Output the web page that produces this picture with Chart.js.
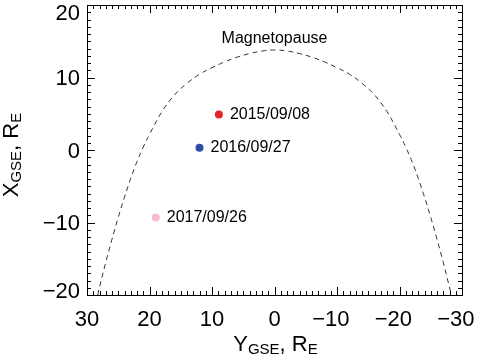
<!DOCTYPE html>
<html>
<head>
<meta charset="utf-8">
<script src="https://cdn.jsdelivr.net/npm/chart.js@4.4.1/dist/chart.umd.min.js"></script>
<style>
  html, body { margin: 0; padding: 0; background: #fff; }
  #wrap { width: 477px; height: 361px; position: relative; }
</style>
</head>
<body>
<div id="wrap"><canvas id="mp"></canvas></div>
<script>
// magnetopause boundary (Y_GSE, X_GSE in Earth radii)
const mpY = [28.3, 27, 26, 25, 24, 23, 22, 21, 20, 18, 16, 14, 12, 10, 8, 6, 4, 2, 0,
             -2, -4, -6, -8, -10, -12, -14, -16, -18, -20, -21, -22, -23, -24, -25, -26, -27, -28.3];
const mpX = [-20, -15.5, -12.3, -9.3, -6.5, -3.9, -1.6, 0.4, 2.15, 5.3, 7.6, 9.2, 10.45, 11.35, 12.15, 12.8, 13.3, 13.65, 13.8,
             13.65, 13.3, 12.8, 12.15, 11.35, 10.45, 9.2, 7.6, 5.3, 2.15, 0.4, -1.6, -3.9, -6.5, -9.3, -12.3, -15.5, -20];

// spacecraft positions for the three events
const eventDates = ['2015/09/08', '2016/09/27', '2017/09/26'];
const eventY = [8.9, 12.0, 19.0];
const eventX = [4.9, 0.3, -9.3];

const FONT = '"Liberation Sans", Arial, Helvetica, sans-serif';

// negative labels: minus hangs to the left of the centred digits
function xLabel(v) {
    return v < 0 ? '\u2212' + Math.abs(v) + '\u2007' : String(v);
}

// draws main text + subscript pieces centred on 0,0 (already translated/rotated)
function drawSubText(ctx, parts) {
    let total = 0;
    parts.forEach(p => {
        ctx.font = (p.sub ? '15px ' : '22px ') + FONT;
        p.w = ctx.measureText(p.t).width;
        total += p.w;
    });
    let x = -total / 2;
    ctx.textAlign = 'left';
    ctx.textBaseline = 'alphabetic';
    parts.forEach(p => {
        ctx.font = (p.sub ? '15px ' : '22px ') + FONT;
        ctx.fillText(p.t, x, p.sub ? 3 : 0);
        x += p.w;
    });
}

const decorations = {
    id: 'decorations',
    afterDraw(chart) {
        const ctx = chart.ctx;
        const a = chart.chartArea;
        const xs = chart.scales.x, ys = chart.scales.y;
        ctx.save();
        ctx.strokeStyle = '#000';
        ctx.lineWidth = 1;
        ctx.strokeRect(Math.round(a.left) + 0.5, Math.round(a.top) + 0.5,
                       Math.round(a.right - a.left), Math.round(a.bottom - a.top));

        // inward ticks on all four sides
        ctx.beginPath();
        for (let v = xs.min; v <= xs.max; v++) {
            const px = Math.round(xs.getPixelForValue(v)) + 0.5;
            const len = v % 10 === 0 ? 8 : 4;
            ctx.moveTo(px, a.bottom); ctx.lineTo(px, a.bottom - len);
            ctx.moveTo(px, a.top); ctx.lineTo(px, a.top + len);
        }
        for (let v = ys.min; v <= ys.max; v++) {
            const py = Math.round(ys.getPixelForValue(v)) + 0.5;
            const len = v % 10 === 0 ? 8 : 4;
            ctx.moveTo(a.left, py); ctx.lineTo(a.left + len, py);
            ctx.moveTo(a.right, py); ctx.lineTo(a.right - len, py);
        }
        ctx.stroke();

        ctx.fillStyle = '#000';

        // y tick labels, end labels kept inside the frame height
        ctx.font = '22px ' + FONT;
        ctx.textAlign = 'right';
        ctx.textBaseline = 'alphabetic';
        ys.ticks.forEach(t => {
            let cy = ys.getPixelForValue(t.value);
            cy = Math.min(Math.max(cy, a.top + 7.5), a.bottom - 5);
            const s = t.value < 0 ? '\u2212' + Math.abs(t.value) : String(t.value);
            ctx.fillText(s, a.left - 7, cy + 7.9);
        });

        // event date labels beside the points
        const meta = chart.getDatasetMeta(1);
        ctx.font = '16px ' + FONT;
        ctx.textAlign = 'left';
        ctx.textBaseline = 'middle';
        meta.data.forEach((pt, i) => {
            ctx.fillText(eventDates[i], pt.x + 11, pt.y);
        });

        // magnetopause label above the nose
        const nose = Math.max(...mpX);
        ctx.textAlign = 'center';
        ctx.fillText('Magnetopause', xs.getPixelForValue(0), ys.getPixelForValue(nose) - 11);

        // axis titles with subscripts
        ctx.save();
        ctx.translate(xs.getPixelForValue(0) + 1, 351);
        drawSubText(ctx, [{t: 'Y'}, {t: 'GSE', sub: true}, {t: ', R'}, {t: 'E', sub: true}]);
        ctx.restore();

        ctx.save();
        ctx.translate(18, 155);
        ctx.rotate(-Math.PI / 2);
        drawSubText(ctx, [{t: 'X'}, {t: 'GSE', sub: true}, {t: ', R'}, {t: 'E', sub: true}]);
        ctx.restore();

        ctx.restore();
    }
};

const ctx = document.getElementById('mp').getContext('2d');
const chart = new Chart(ctx, {
    type: 'scatter',
    data: {
        datasets: [{
            label: 'Magnetopause',
            data: mpY.map((y, i) => ({x: y, y: mpX[i]})),
            showLine: true,
            borderColor: '#333',
            borderWidth: 1,
            borderDash: [5, 4],
            tension: 0.4,
            pointRadius: 0,
            fill: false,
        }, {
            label: 'Events',
            data: eventY.map((y, i) => ({x: y, y: eventX[i]})),
            backgroundColor: ['#e3262b', '#2e4fa3', '#f5bccb'],
            borderWidth: 0,
            pointRadius: 4,
            pointHoverRadius: 4,
        }]
    },
    options: {
        responsive: true,
        maintainAspectRatio: false,
        animation: false,
        layout: { padding: { top: 5, right: 15, left: 0, bottom: 0 } },
        plugins: {
            legend: { display: false },
            tooltip: { enabled: false },
        },
        scales: {
            x: {
                type: 'linear',
                min: -30,
                max: 30,
                reverse: true,
                grid: { display: false, drawTicks: false },
                border: { display: false },
                ticks: {
                    stepSize: 10,
                    padding: 12,
                    color: '#000',
                    font: { family: FONT, size: 22 },
                    maxRotation: 0,
                    callback: xLabel,
                },
                afterFit(s) {
                    s.height = 66;
                    s.paddingLeft = 0; s.paddingRight = 0;
                },
            },
            y: {
                type: 'linear',
                min: -20,
                max: 20,
                grid: { display: false, drawTicks: false },
                border: { display: false },
                ticks: { stepSize: 10, display: false },
                afterFit(s) {
                    s.width = 87;
                    s.paddingTop = 0; s.paddingBottom = 0;
                },
            },
        },
    },
    plugins: [decorations],
});
</script>
</body>
</html>
